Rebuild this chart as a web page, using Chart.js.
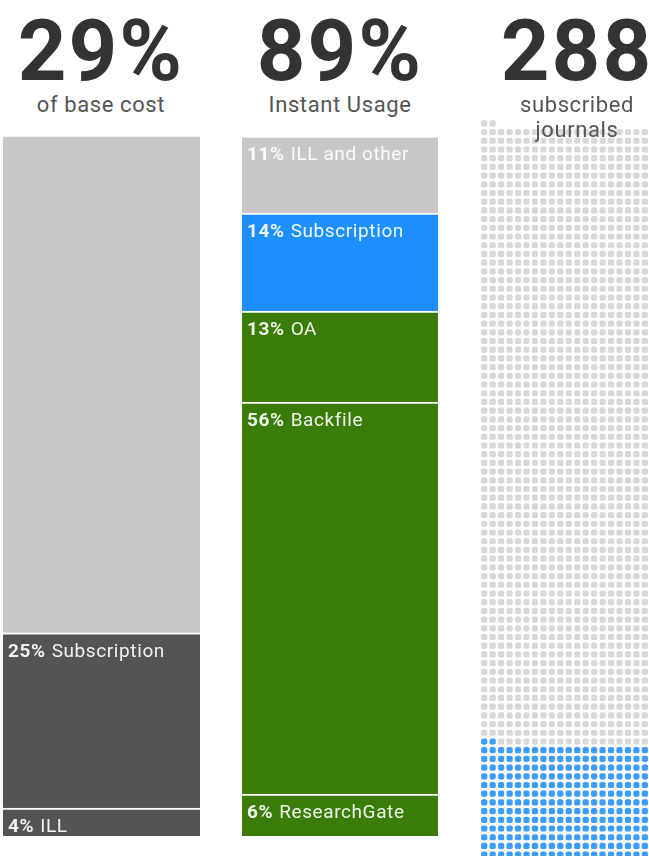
<!DOCTYPE html>
<html>
<head>
<meta charset="utf-8">
<script src="https://cdn.jsdelivr.net/npm/chart.js@4/dist/chart.umd.min.js"></script>
<style>
  html, body { margin: 0; padding: 0; background: #fff; }
  body { position: relative; width: 649px; height: 856px; overflow: hidden; font-family: Roboto, sans-serif; }
  .head { position: absolute; top: 0; width: 240px; text-align: center; z-index: 1; }
  .big { position: absolute; left: 0; width: 100%; top: 9px; font-size: 85px; font-weight: 700; line-height: 1; color: #333; letter-spacing: 2px; }
  .sub { position: absolute; left: 0; width: 100%; top: 92px; font-size: 22px; line-height: 25px; color: #555; letter-spacing: 0.6px; }
  canvas { position: absolute; }
</style>
</head>
<body>
<div id="heads"></div>
<canvas id="costChart" width="197" height="701" style="left:3px;top:135px"></canvas>
<canvas id="usageChart" width="196" height="700" style="left:242px;top:136px"></canvas>
<canvas id="waffle" width="194" height="748" style="left:476px;top:115px"></canvas>
<script>
// headline numbers
var headlines = ['29%', '89%', '288'];
var subtitles = ['of base cost', 'Instant Usage', 'subscribed<br>journals'];
var headCenters = [101, 340, 577];

// cost column, bottom to top
var costLabels = ['ILL', 'Subscription', 'Other'];
var costValues = [4, 25, 71];
var costColors = ['#545454', '#545454', '#c8c8c8'];
var costShowLabel = [true, true, false];

// usage column, bottom to top
var usageLabels = ['ResearchGate', 'Backfile', 'OA', 'Subscription', 'ILL and other'];
var usageValues = [6, 56, 13, 14, 11];
var usageColors = ['#3a7c07', '#3a7c07', '#3a7c07', '#1e8fff', '#c8c8c8'];

// journals waffle
var totalJournals = 1850;
var subscribedJournals = 288;
var waffleColumns = 22;

var heads = document.getElementById('heads');
headlines.forEach(function (h, i) {
    var d = document.createElement('div');
    d.className = 'head';
    d.style.left = (headCenters[i] - 120) + 'px';
    d.innerHTML = '<div class="big">' + h + '</div><div class="sub">' + subtitles[i] + '</div>';
    heads.appendChild(d);
});

var segmentLabels = {
    id: 'segmentLabels',
    afterDatasetsDraw: function (chart) {
        var ctx = chart.ctx;
        chart.data.datasets.forEach(function (ds, i) {
            if (!ds.showLabel) return;
            var bar = chart.getDatasetMeta(i).data[0];
            var left = bar.x - bar.width / 2 + 5;
            var top = Math.min(bar.y, bar.base) + 10;
            ctx.save();
            ctx.fillStyle = 'rgba(255, 255, 255, 0.92)';
            ctx.textBaseline = 'top';
            ctx.letterSpacing = '0.6px';
            var pct = ds.data[0] + '%';
            ctx.font = 'bold 19px Roboto';
            ctx.fillText(pct, left, top);
            var w = ctx.measureText(pct).width + 6;
            ctx.font = '19px Roboto';
            ctx.fillText(ds.label, left + w, top);
            ctx.restore();
        });
    }
};

function stackOptions() {
    return {
        responsive: false,
        animation: false,
        layout: { padding: 0 },
        plugins: { legend: { display: false }, tooltip: { enabled: false } },
        scales: {
            x: { display: false, stacked: true },
            y: { display: false, stacked: true, min: 0, max: 100 }
        }
    };
}

function stackDatasets(labels, values, colors, show) {
    return labels.map(function (l, i) {
        return {
            label: l,
            data: [values[i]],
            backgroundColor: colors[i],
            borderColor: 'rgba(255, 255, 255, 0.75)',
            borderWidth: { top: 2, left: 0, right: 0, bottom: 0 },
            borderSkipped: false,
            barPercentage: 1,
            categoryPercentage: 1,
            showLabel: show ? show[i] : true
        };
    });
}

new Chart(document.getElementById('costChart'), {
    type: 'bar',
    data: { labels: [''], datasets: stackDatasets(costLabels, costValues, costColors, costShowLabel) },
    options: stackOptions(),
    plugins: [segmentLabels]
});

new Chart(document.getElementById('usageChart'), {
    type: 'bar',
    data: { labels: [''], datasets: stackDatasets(usageLabels, usageValues, usageColors) },
    options: stackOptions(),
    plugins: [segmentLabels]
});

// one dot per journal, filled from the bottom left
var subscribedDots = [];
var otherDots = [];
for (var i = 0; i < totalJournals; i++) {
    var p = { x: i % waffleColumns, y: Math.floor(i / waffleColumns) };
    if (i < subscribedJournals) subscribedDots.push(p); else otherDots.push(p);
}
var waffleRows = Math.ceil(totalJournals / waffleColumns);

new Chart(document.getElementById('waffle'), {
    type: 'scatter',
    data: {
        datasets: [
            { label: 'subscribed', data: subscribedDots, backgroundColor: '#3d9cff', borderWidth: 0, pointStyle: 'rectRounded', pointRadius: 3.6 },
            { label: 'other', data: otherDots, backgroundColor: '#d8d8d8', borderWidth: 0, pointStyle: 'rectRounded', pointRadius: 3.6 }
        ]
    },
    options: {
        responsive: false,
        animation: false,
        layout: { padding: 0 },
        plugins: { legend: { display: false }, tooltip: { enabled: false } },
        scales: {
            x: { display: false, min: -0.5, max: waffleColumns - 0.5 },
            y: { display: false, min: -0.5, max: waffleRows - 0.5 }
        }
    }
});
</script>
</body>
</html>
